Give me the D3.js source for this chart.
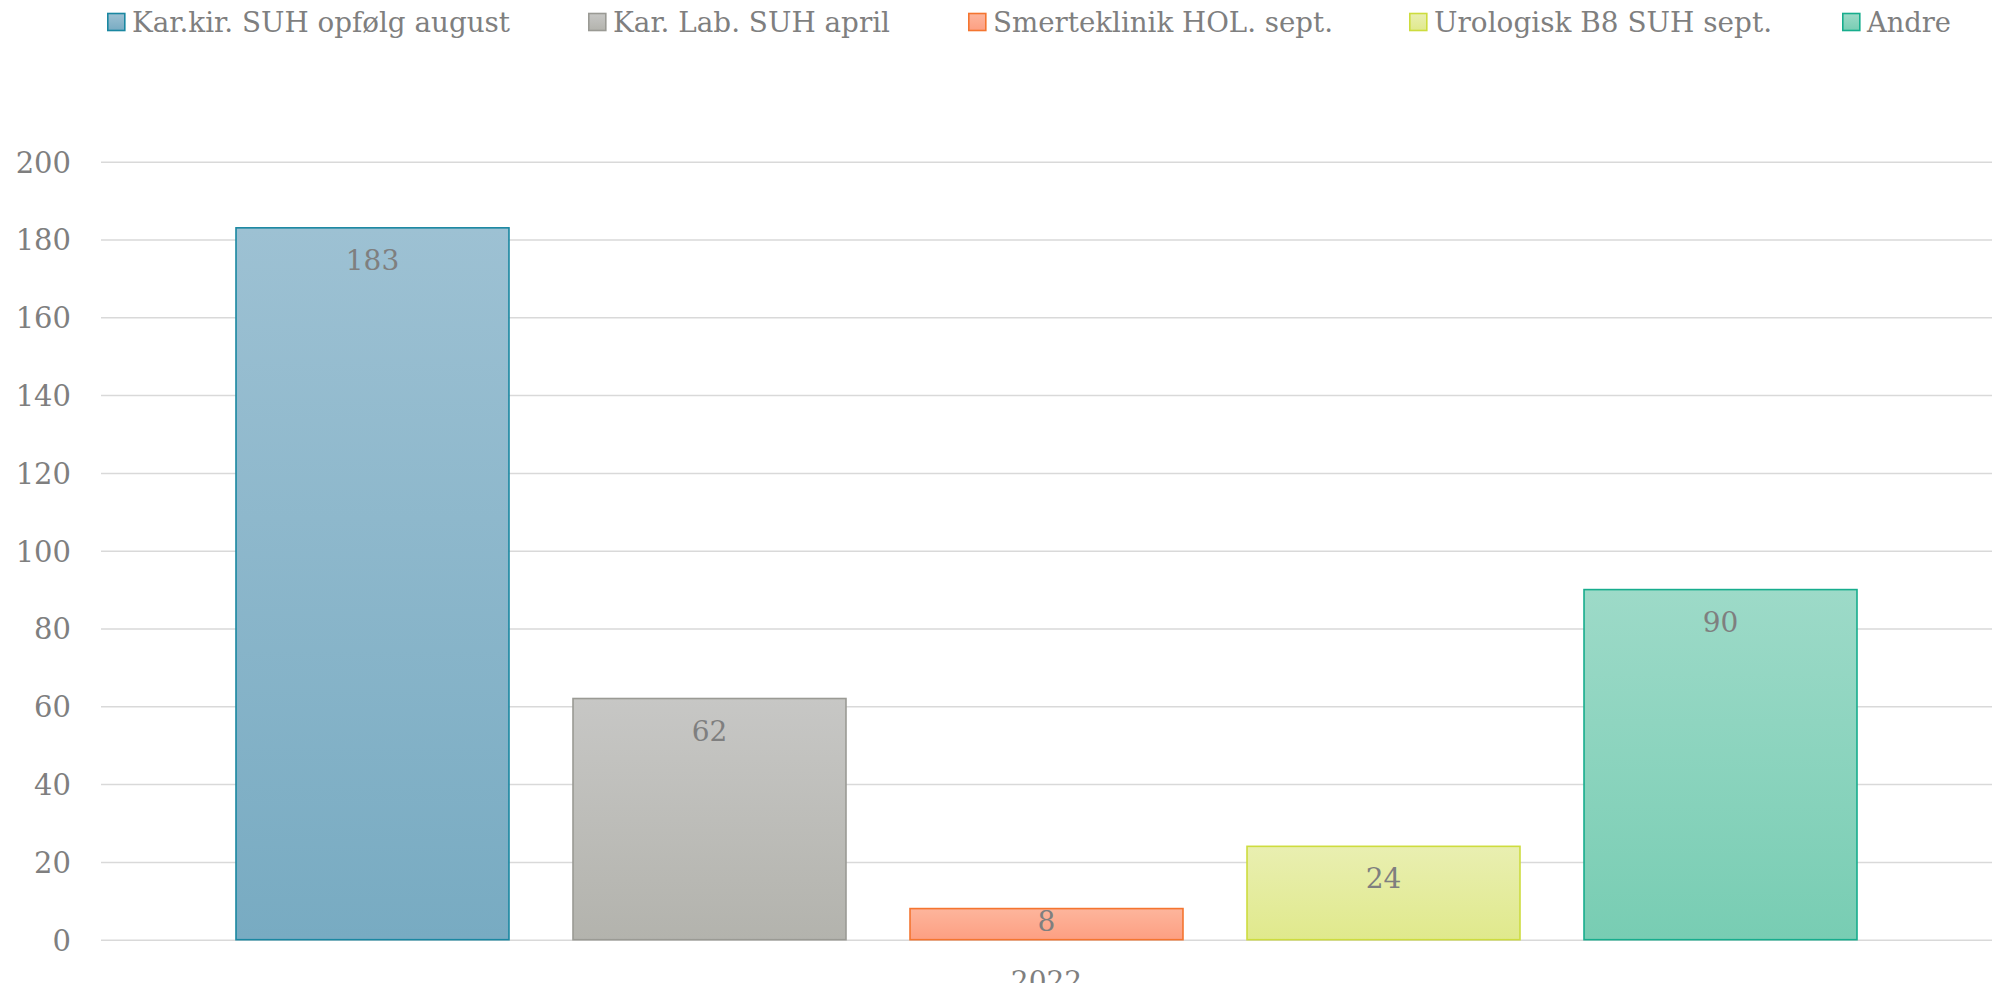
<!DOCTYPE html>
<html>
<head>
<meta charset="utf-8">
<script src="https://cdn.jsdelivr.net/npm/d3@7/dist/d3.min.js"></script>
<style>
  html, body { margin: 0; padding: 0; background: #ffffff; }
  svg { display: block; }
  text { font-family: "DejaVu Serif", "Liberation Serif", serif; fill: #7f7f7f; }
</style>
</head>
<body>
<svg id="chart" width="1992" height="983"></svg>
<script>
// ---- data ----
const categories = ["2022"];
const seriesNames = ["Kar.kir. SUH opfølg august", "Kar. Lab. SUH april", "Smerteklinik HOL. sept.", "Urologisk B8 SUH sept.", "Andre"];
const seriesValues = [183, 62, 8, 24, 90];
const yTicks = [0, 20, 40, 60, 80, 100, 120, 140, 160, 180, 200];

// ---- styles ----
const fillTop    = ["#9dc1d3", "#c7c7c5", "#fdb59c", "#e9efb1", "#9ddac8"];
const fillBottom = ["#78abc2", "#b3b3ad", "#fd9f82", "#e0e98c", "#78cdb3"];
const strokes    = ["#1a87a1", "#9a9a94", "#f47530", "#cddc3e", "#17ad8d"];

const W = 1992, H = 983;
const plot = { left: 101, right: 1992, top: 161.7, bottom: 939.7 };

const svg = d3.select("#chart");
const defs = svg.append("defs");
seriesNames.forEach((s, i) => {
  const g = defs.append("linearGradient").attr("id", "grad" + i)
    .attr("x1", 0).attr("y1", 0).attr("x2", 0).attr("y2", 1);
  g.append("stop").attr("offset", "0%").attr("stop-color", fillTop[i]);
  g.append("stop").attr("offset", "100%").attr("stop-color", fillBottom[i]);
});

const y = d3.scaleLinear().domain([0, 200]).range([plot.bottom, plot.top]);
const x0 = d3.scaleBand().domain(categories).range([plot.left, plot.right]);
const x1 = d3.scaleBand().domain(seriesNames).range([0, x0.bandwidth()])
  .paddingInner(0.19).paddingOuter(0.4006);

// gridlines
const yAxis = d3.axisLeft(y).tickValues(yTicks).tickSize(-(plot.right - plot.left)).tickFormat(d3.format("d")).tickPadding(30);
const gAxis = svg.append("g").attr("transform", `translate(${plot.left},0)`).call(yAxis);
gAxis.select(".domain").remove();
gAxis.selectAll(".tick line").attr("stroke", "#d9d9d9").attr("stroke-width", 1.5);
gAxis.selectAll(".tick text")
  .attr("fill", "#7f7f7f")
  .style("font-family", '"DejaVu Serif", serif')
  .style("font-size", "29px")
  .attr("dy", "0.36em");

// bars
const gCat = svg.append("g").selectAll("g").data(categories).join("g")
  .attr("transform", d => `translate(${x0(d)},0)`);

const barData = seriesNames.map((s, i) => ({ name: s, value: seriesValues[i], i }));
gCat.selectAll("rect").data(barData).join("rect")
  .attr("x", d => x1(d.name))
  .attr("y", d => y(d.value))
  .attr("width", x1.bandwidth())
  .attr("height", d => y(0) - y(d.value))
  .attr("fill", d => `url(#grad${d.i})`)
  .attr("stroke", d => strokes[d.i])
  .attr("stroke-width", 1.6);

// data labels
gCat.selectAll("text.lbl").data(barData).join("text")
  .attr("class", "lbl")
  .attr("x", d => x1(d.name) + x1.bandwidth() / 2)
  .attr("y", d => Math.min(y(d.value) + 42, y(0) - 9))
  .attr("text-anchor", "middle")
  .style("font-size", "28px")
  .text(d => d.value);

// category label (cut off at the bottom edge, as in the reference)
svg.append("g").selectAll("text").data(categories).join("text")
  .attr("x", d => x0(d) + x0.bandwidth() / 2)
  .attr("y", 991)
  .attr("text-anchor", "middle")
  .style("font-size", "28px")
  .text(d => d);

// legend
const legendX = [107, 588, 968, 1409, 1842];
const legendW = [378, 277, 340, 338, 84];
const lg = svg.append("g").selectAll("g").data(seriesNames).join("g")
  .attr("transform", (d, i) => `translate(${legendX[i]},0)`);
lg.append("rect")
  .attr("x", 0.8).attr("y", 13.5).attr("width", 17).attr("height", 17)
  .attr("fill", (d, i) => `url(#grad${i})`)
  .attr("stroke", (d, i) => strokes[i]).attr("stroke-width", 1.6);
lg.append("text")
  .attr("x", 25).attr("y", 32)
  .style("font-size", "28px")
  .attr("textLength", (d, i) => legendW[i])
  .attr("lengthAdjust", "spacingAndGlyphs")
  .text(d => d);
</script>
</body>
</html>
